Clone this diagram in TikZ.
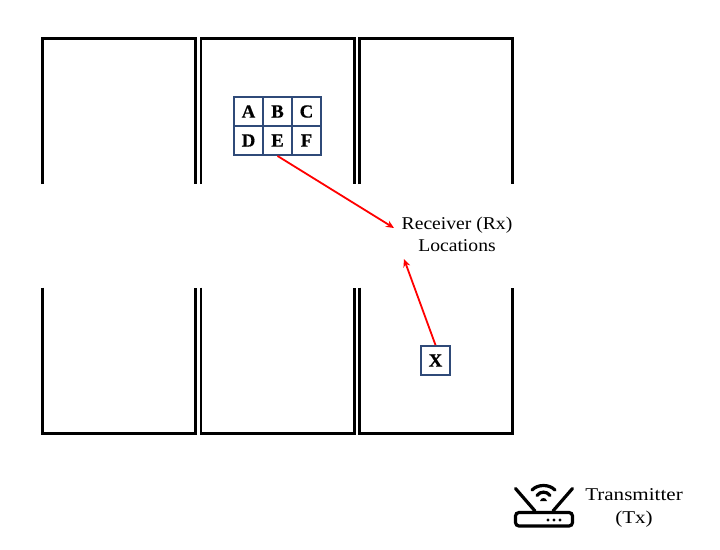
\documentclass[tikz,border=0pt]{standalone}
\usepackage{fontspec}
\setmainfont{Liberation Serif}
\newfontfamily\rxfont[FakeStretch=1.09]{Liberation Serif}
\newfontfamily\txfont[FakeStretch=1.17]{Liberation Serif}
\newfontfamily\cellfont[FakeStretch=1.02,FakeBold=0.6]{Liberation Serif Bold}
\usetikzlibrary{arrows.meta}
\definecolor{cellblue}{HTML}{2F4A78}
\tikzset{
  wall/.style={draw=black,line width=2.8pt,line cap=butt,line join=miter},
  cell/.style={draw=cellblue,line width=1.9pt,minimum width=29pt,minimum height=29pt,inner sep=0pt,font=\fontsize{18.5}{18.5}\cellfont,fill=white},
  redarrow/.style={draw=red,line width=1.8pt,-{Stealth[length=8pt,width=7pt]}},
  lbl/.style={align=center,inner sep=0pt},
  icon/.style={draw=black,line width=3.2pt}
}
\begin{document}
\begin{tikzpicture}[x=1pt,y=-1pt]
\useasboundingbox (0,0) rectangle (720,549);
% walls
\foreach \l/\r in {42.3/195.8,201/354.5,359.5/512.8}{
  \draw[wall] (\l,184) -- (\l,38.7) -- (\r,38.7) -- (\r,184);
  \draw[wall] (\l,287.5) -- (\l,433.3) -- (\r,433.3) -- (\r,287.5);
}
% cells
\node[cell] (A) at (248.5,111.5) {A};
\node[cell] (B) at (277.5,111.5) {B};
\node[cell] (C) at (306.5,111.5) {C};
\node[cell] (D) at (248.5,140.5) {D};
\node[cell] (E) at (277.5,140.5) {E};
\node[cell] (F) at (306.5,140.5) {F};
\node[cell] (X) at (435.5,360.5) {X};
% labels
\node[lbl,font=\fontsize{18}{22}\rxfont] (rx) at (457,234.5) {Receiver (Rx)\\Locations};
\node[lbl,font=\fontsize{18}{23}\txfont] (tx) at (634,508) {Transmitter\\(Tx)};
\coordinate (rxa) at (394,228);
\coordinate (rxb) at (404,259);
\draw[redarrow] (E.south) -- (rxa);
\draw[redarrow] (X.north) -- (rxb);
% router icon
\draw[icon,rounded corners=3.5pt] (515.5,512.5) rectangle (572.5,526);
\draw[icon,line cap=round] (515.5,488.5) -- (535,511);
\draw[icon,line cap=round] (572.5,488.5) -- (553,511);
\fill (548,520) circle (1.7);
\fill (554,520) circle (1.7);
\fill (560,520) circle (1.7);
\draw[icon,line cap=round] (532,490) .. controls (538,484) and (549,484) .. (555,490);
\draw[icon,line cap=round] (537,495.5) .. controls (540,491) and (547,491) .. (550,495.5);
\fill (540,501) .. controls (541,497) and (546,497) .. (547,501) -- cycle;
\end{tikzpicture}
\end{document}
